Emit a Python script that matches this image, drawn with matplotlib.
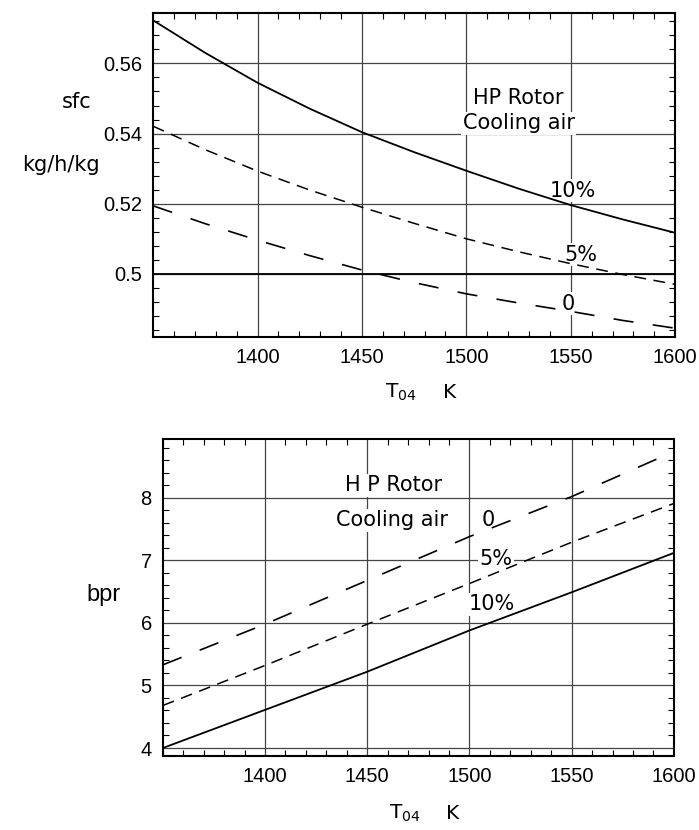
import numpy as np
import matplotlib
matplotlib.use('Agg')
import matplotlib.pyplot as plt
from matplotlib.ticker import MultipleLocator

plt.rcParams['font.family'] = ['Liberation Sans', 'DejaVu Sans']
plt.rcParams['lines.scale_dashes'] = False

# T04 (K) points
T04_sfc = [1350, 1375, 1400, 1425, 1450, 1475, 1500, 1525, 1550, 1575, 1600]

# sfc (kg/h/kg) for HP rotor cooling air 10%, 5%, 0
sfc_10 = [0.5723, 0.5630, 0.5545, 0.5471, 0.5404, 0.5347, 0.5294, 0.5243, 0.5196, 0.5155, 0.5117]
sfc_5 = [0.5421, 0.5354, 0.5293, 0.5239, 0.5190, 0.5144, 0.5100, 0.5063, 0.5029, 0.4998, 0.4970]
sfc_0 = [0.5194, 0.5143, 0.5096, 0.5052, 0.5011, 0.4975, 0.4943, 0.4917, 0.4893, 0.4867, 0.4845]
sfc_ref = 0.5

# bypass ratio
T04_bpr = [1350, 1400, 1450, 1500, 1550, 1600]
bpr_10 = [4.00, 4.61, 5.22, 5.88, 6.49, 7.12]
bpr_5 = [4.68, 5.32, 5.98, 6.63, 7.29, 7.91]
bpr_0 = [5.33, 5.98, 6.68, 7.38, 8.02, 8.74]

short_dash = (0, (8.5, 5.5))
long_dash = (0, (14.5, 14))
grid_c = '#444444'
txt_font = ['DejaVu Sans']

fig = plt.figure(figsize=(6.99, 8.30), dpi=100)
ax1 = fig.add_axes([0.219, 0.594, 0.747, 0.390])
ax2 = fig.add_axes([0.233, 0.089, 0.731, 0.382])


def style_axes(ax, ylab_y):
    ax.set_xlim(1350, 1600)
    ax.set_xticks([1400, 1450, 1500, 1550, 1600])
    ax.xaxis.set_minor_locator(MultipleLocator(10))
    ax.tick_params(which='both', direction='in', top=True, right=True,
                   labelsize=14.5, pad=8)
    ax.tick_params(which='major', length=0)
    ax.tick_params(which='minor', length=4, width=0.8)
    ax.grid(True, which='major', color=grid_c, linewidth=0.9)
    ax.set_axisbelow(True)
    for s in ax.spines.values():
        s.set_linewidth(1.5)
    ax.text(0.474, ylab_y, r'T$_{04}$', transform=ax.transAxes, fontsize=14.5,
            ha='center', va='center', family=txt_font)
    ax.text(0.568, ylab_y, 'K', transform=ax.transAxes, fontsize=14.5,
            ha='center', va='center', family=txt_font)


box = dict(facecolor='white', edgecolor='none', pad=1)
kw = dict(fontsize=15, family=txt_font, ha='center', va='center',
          bbox=box, zorder=2)

# ---- top: sfc
style_axes(ax1, -0.17)
ax1.set_ylim(0.482, 0.5743)
ax1.set_yticks([0.5, 0.52, 0.54, 0.56])
ax1.set_yticklabels(['0.5', '0.52', '0.54', '0.56'])
ax1.yaxis.set_minor_locator(MultipleLocator(0.004))
ax1.plot(T04_sfc, sfc_10, color='black', lw=1.3, zorder=3)
ax1.plot(T04_sfc, sfc_5, color='black', lw=1.1, linestyle=short_dash, zorder=3)
ax1.plot(T04_sfc, sfc_0, color='black', lw=1.2, linestyle=long_dash, zorder=3)
ax1.axhline(sfc_ref, color='black', lw=1.3, zorder=3)

ax1.text(1525, 0.5501, 'HP Rotor', **kw)
ax1.text(1525, 0.5430, 'Cooling air', **kw)
ax1.text(1551, 0.5237, '10%', **kw)
ax1.text(1555, 0.5055, '5%', **kw)
ax1.text(1549, 0.4915, '0', **kw)

fig.text(0.11, 0.877, 'sfc', fontsize=15, family=txt_font, ha='center', va='center')
fig.text(0.087, 0.801, 'kg/h/kg', fontsize=15, family=txt_font, ha='center', va='center')

# ---- bottom: bpr
style_axes(ax2, -0.18)
ax2.set_ylim(3.87, 8.94)
ax2.set_yticks([4, 5, 6, 7, 8])
ax2.yaxis.set_minor_locator(MultipleLocator(0.2))
ax2.plot(T04_bpr, bpr_10, color='black', lw=1.3, zorder=3)
ax2.plot(T04_bpr, bpr_5, color='black', lw=1.1, linestyle=short_dash, zorder=3)
ax2.plot(T04_bpr, bpr_0, color='black', lw=1.2, linestyle=long_dash, zorder=3)

ax2.text(1463, 8.20, 'H P Rotor', **kw)
ax2.text(1462, 7.64, 'Cooling air', **kw)
ax2.text(1509, 7.64, '0', **kw)
ax2.text(1513, 7.02, '5%', **kw)
ax2.text(1511, 6.30, '10%', **kw)

fig.text(0.148, 0.283, 'bpr', fontsize=17, ha='center', va='center')

fig.savefig('out.png', dpi=100, facecolor='white')
